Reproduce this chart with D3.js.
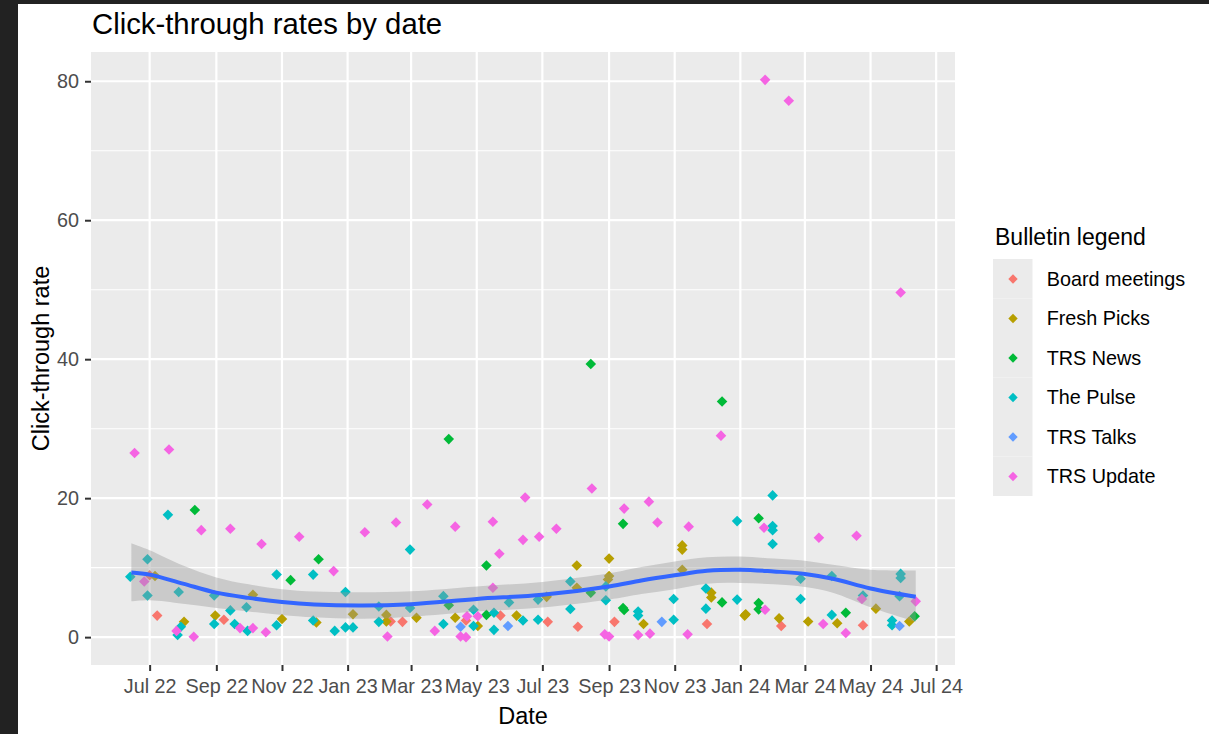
<!DOCTYPE html>
<html>
<head>
<meta charset="utf-8">
<script src="https://cdn.jsdelivr.net/npm/d3@7"></script>
<style>
  body { margin: 0; background: #fff; }
  svg { display: block; font-family: "Liberation Sans", Arial, sans-serif; }
</style>
</head>
<body>
<div class="ctr-plot"></div>
<script>
const seriesNames = ["Board meetings", "Fresh Picks", "TRS News", "The Pulse", "TRS Talks", "TRS Update"];
const seriesColors = ["#F8766D", "#B79F00", "#00BA38", "#00BFC4", "#619CFF", "#F564E3"];

const boardDates = ["2022-07-01","2022-07-08","2022-09-08","2023-02-10","2023-02-21","2023-04-21","2023-05-23","2023-07-06","2023-08-03","2023-09-06","2023-12-01","2024-02-08","2024-04-24"];
const boardRates = [8.9, 3.1, 2.5, 2.25, 2.2, 2.4, 3.1, 2.2, 1.5, 2.2, 1.9, 1.6, 1.7];

const freshDates = ["2022-07-06","2022-08-02","2022-08-31","2022-10-05","2022-11-01","2022-12-03","2023-01-06","2023-02-06","2023-02-06","2023-03-06","2023-04-11","2023-05-02","2023-06-07","2023-07-05","2023-08-02","2023-08-02","2023-09-01","2023-09-01","2023-08-31","2023-10-03","2023-11-08","2023-11-08","2023-11-08","2023-12-05","2023-12-05","2024-01-05","2024-01-06","2024-02-06","2024-03-04","2024-03-31","2024-05-06","2024-06-06"];
const freshRates = [8.8, 2.2, 3.1, 6.1, 2.6, 2.1, 3.3, 3.2, 2.25, 2.8, 2.8, 1.6, 3.1, 5.8, 10.3, 7.1, 11.3, 8.8, 8.3, 1.9, 13.2, 12.6, 9.7, 6.4, 5.7, 3.1, 3.3, 2.7, 2.25, 2.0, 4.1, 2.25];

const newsDates = ["2022-08-12","2022-11-09","2022-12-05","2023-04-05","2023-04-05","2023-05-10","2023-05-10","2023-08-15","2023-08-15","2023-09-14","2023-09-14","2023-09-15","2023-12-15","2023-12-15","2024-01-18","2024-01-18","2024-01-18","2024-04-08","2024-06-11"];
const newsRates = [18.3, 8.2, 11.2, 4.6, 28.5, 10.3, 3.2, 6.4, 39.3, 16.3, 4.2, 3.9, 5.0, 33.9, 17.1, 4.9, 4.0, 3.5, 3.0];

const pulseDates = ["2022-06-13","2022-06-29","2022-06-29","2022-07-18","2022-07-27","2022-07-30","2022-07-28","2022-08-30","2022-08-30","2022-09-14","2022-09-18","2022-09-29","2022-09-30","2022-10-27","2022-10-27","2022-11-30","2022-11-30","2022-12-20","2022-12-30","2022-12-30","2023-01-06","2023-01-30","2023-01-30","2023-02-28","2023-02-28","2023-03-31","2023-03-31","2023-04-28","2023-04-28","2023-05-31","2023-05-17","2023-05-17","2023-06-13","2023-06-27","2023-06-27","2023-07-27","2023-07-27","2023-08-29","2023-08-29","2023-09-28","2023-09-28","2023-10-31","2023-10-31","2023-11-30","2023-11-30","2023-12-29","2023-12-29","2024-01-31","2024-01-31","2024-01-31","2024-01-31","2024-02-26","2024-02-26","2024-03-26","2024-03-26","2024-04-24","2024-05-29","2024-05-29","2024-05-28","2024-05-21","2024-05-21"];
const pulseRates = [8.7, 11.2, 6.0, 17.6, 0.3, 1.5, 6.5, 6.0, 1.9, 3.85, 1.9, 4.3, 0.9, 1.7, 9.0, 9.0, 2.4, 0.9, 6.5, 1.4, 1.4, 4.4, 2.2, 12.6, 4.2, 1.9, 5.9, 3.95, 1.6, 5.0, 1.05, 3.5, 2.4, 5.4, 2.5, 8.0, 4.05, 7.3, 5.3, 3.7, 3.1, 5.5, 2.5, 7.0, 4.1, 16.7, 5.4, 20.4, 16.0, 15.4, 13.4, 8.4, 5.5, 8.8, 3.2, 6.0, 9.1, 8.5, 5.9, 2.4, 1.7];

const talksDates = ["2023-04-16","2023-05-30","2023-10-20","2024-05-28"];
const talksRates = [1.5, 1.6, 2.2, 1.6];

const updateDates = ["2022-06-17","2022-06-26","2022-07-26","2022-07-19","2022-08-11","2022-08-18","2022-09-14","2022-09-23","2022-10-05","2022-10-13","2022-10-17","2022-11-17","2022-12-19","2023-01-17","2023-02-07","2023-02-15","2023-03-16","2023-03-23","2023-04-11","2023-04-22","2023-04-16","2023-04-21","2023-05-02","2023-05-16","2023-05-16","2023-05-22","2023-06-13","2023-06-15","2023-06-28","2023-07-14","2023-08-16","2023-08-28","2023-09-01","2023-09-15","2023-09-28","2023-10-08","2023-10-09","2023-10-16","2023-11-13","2023-11-14","2023-12-14","2024-01-23","2024-01-24","2024-01-24","2024-02-15","2024-03-14","2024-03-18","2024-04-08","2024-04-18","2024-04-23","2024-05-29","2024-06-12"];
const updateRates = [26.5, 8.0, 0.9, 27.0, 0.05, 15.4, 15.6, 1.3, 1.3, 13.4, 0.7, 14.45, 9.5, 15.1, 0.1, 16.5, 19.1, 0.9, 15.9, 3.0, 0.1, 0.0, 3.0, 16.6, 7.1, 12.0, 14.0, 20.1, 14.45, 15.6, 21.4, 0.4, 0.1, 18.5, 0.3, 19.5, 0.5, 16.5, 0.4, 15.9, 29.0, 15.75, 3.95, 80.2, 77.2, 14.3, 1.9, 0.6, 14.6, 5.5, 49.6, 5.15];

// smoother (fit and 95% band)
const smoothDates = ["2022-06-14","2022-07-01","2022-08-01","2022-09-01","2022-10-01","2022-11-01","2022-12-01","2023-01-15","2023-03-01","2023-05-01","2023-07-01","2023-09-01","2023-10-01","2023-11-01","2023-12-01","2024-01-01","2024-02-01","2024-03-01","2024-03-27","2024-05-01","2024-06-12"];
const smoothFit = [9.3, 9.0, 7.7, 6.4, 5.65, 5.06, 4.7, 4.55, 4.75, 5.5, 6.1, 7.3, 8.15, 8.9, 9.55, 9.7, 9.45, 9.1, 8.4, 7.0, 5.8];
const smoothUpper = [13.5, 12.5, 10.3, 8.6, 7.6, 6.9, 6.55, 6.45, 6.6, 7.3, 7.95, 9.2, 10.1, 10.9, 11.5, 11.6, 11.3, 11.0, 10.4, 9.7, 9.6];
const smoothLower = [5.15, 5.3, 4.8, 4.2, 3.7, 3.2, 2.85, 2.65, 2.95, 3.7, 4.25, 5.4, 6.2, 6.9, 7.7, 7.8, 7.6, 7.2, 6.4, 4.3, 2.2];

const yTicks = [0, 20, 40, 60, 80];
const yMinor = [10, 30, 50, 70];
const xTickDates = ["2022-07-01","2022-09-01","2022-11-01","2023-01-01","2023-03-01","2023-05-01","2023-07-01","2023-09-01","2023-11-01","2024-01-01","2024-03-01","2024-05-01","2024-07-01"];

const parse = d3.timeParse("%Y-%m-%d");
const allDates = [boardDates, freshDates, newsDates, pulseDates, talksDates, updateDates];
const allRates = [boardRates, freshRates, newsRates, pulseRates, talksRates, updateRates];

const points = [];
allDates.forEach((dates, s) => {
  dates.forEach((d, i) => points.push({ date: parse(d), rate: allRates[s][i], series: s }));
});
const smooth = smoothDates.map((d, i) => ({ date: parse(d), fit: smoothFit[i], lo: smoothLower[i], hi: smoothUpper[i] }));

const width = 1209;
const height = 734;
const panel = { left: 91, top: 52, right: 955, bottom: 665 };

const svg = d3.select(".ctr-plot").append("svg").attr("width", width).attr("height", height);
svg.append("rect").attr("width", width).attr("height", height).attr("fill", "#fff");
svg.append("rect").attr("width", 18).attr("height", height).attr("fill", "#222");
svg.append("rect").attr("width", width).attr("height", 4).attr("fill", "#222");

// ggplot style 5% expansion
const xExt = d3.extent(points, (d) => d.date);
const xPad = (xExt[1] - xExt[0]) * 0.05;
const x = d3.scaleTime()
  .domain([new Date(+xExt[0] - xPad), new Date(+xExt[1] + xPad)])
  .range([panel.left, panel.right]);
const yExt = d3.extent(points, (d) => d.rate);
const yPad = (yExt[1] - yExt[0]) * 0.05;
const y = d3.scaleLinear().domain([yExt[0] - yPad, yExt[1] + yPad]).range([panel.bottom, panel.top]);

svg.append("rect")
  .attr("x", panel.left).attr("y", panel.top)
  .attr("width", panel.right - panel.left).attr("height", panel.bottom - panel.top)
  .attr("fill", "#EBEBEB");

svg.selectAll("line.minor").data(yMinor).enter().append("line")
  .attr("x1", panel.left).attr("x2", panel.right)
  .attr("y1", (d) => y(d)).attr("y2", (d) => y(d))
  .attr("stroke", "#fff").attr("stroke-width", 1.1);
svg.selectAll("line.hmajor").data(yTicks).enter().append("line")
  .attr("x1", panel.left).attr("x2", panel.right)
  .attr("y1", (d) => y(d)).attr("y2", (d) => y(d))
  .attr("stroke", "#fff").attr("stroke-width", 2.2);
svg.selectAll("line.vmajor").data(xTickDates).enter().append("line")
  .attr("y1", panel.top).attr("y2", panel.bottom)
  .attr("x1", (d) => x(parse(d))).attr("x2", (d) => x(parse(d)))
  .attr("stroke", "#fff").attr("stroke-width", 2.2);

const diamond = d3.symbol().type(d3.symbolSquare).size(56);

svg.selectAll("path.pt").data(points).enter().append("path")
  .attr("d", diamond)
  .attr("transform", (d) => `translate(${x(d.date)},${y(d.rate)}) rotate(45)`)
  .attr("fill", (d) => seriesColors[d.series]);

const curve = d3.curveCatmullRom.alpha(0.5);
svg.append("path")
  .datum(smooth)
  .attr("d", d3.area().x((d) => x(d.date)).y0((d) => y(d.lo)).y1((d) => y(d.hi)).curve(curve))
  .attr("fill", "#999").attr("fill-opacity", 0.4);
svg.append("path")
  .datum(smooth)
  .attr("d", d3.line().x((d) => x(d.date)).y((d) => y(d.fit)).curve(curve))
  .attr("fill", "none").attr("stroke", "#3366FF").attr("stroke-width", 4);

const xAxis = svg.append("g")
  .attr("transform", `translate(0,${panel.bottom})`)
  .call(d3.axisBottom(x).tickValues(xTickDates.map(parse)).tickFormat(d3.timeFormat("%b %y")).tickSize(6).tickPadding(8));
const yAxis = svg.append("g")
  .attr("transform", `translate(${panel.left},0)`)
  .call(d3.axisLeft(y).tickValues(yTicks).tickSize(6).tickPadding(6));

[xAxis, yAxis].forEach((g) => {
  g.select(".domain").remove();
  g.selectAll(".tick line").attr("stroke", "#333").attr("stroke-width", 2);
  g.selectAll(".tick text").attr("fill", "#4D4D4D").attr("font-size", 19.8).attr("font-family", "Liberation Sans, Arial, sans-serif");
});

svg.append("text").attr("x", 92).attr("y", 34).text("Click-through rates by date")
  .attr("font-size", 29.3).attr("fill", "#000");
svg.append("text").attr("x", (panel.left + panel.right) / 2).attr("y", 724).text("Date")
  .attr("font-size", 23.5).attr("text-anchor", "middle").attr("fill", "#000");
svg.append("text").attr("transform", `translate(49,${(panel.top + panel.bottom) / 2}) rotate(-90)`)
  .text("Click-through rate").attr("font-size", 23.5).attr("text-anchor", "middle").attr("fill", "#000");

// legend
const legend = svg.append("g");
legend.append("text").attr("x", 995).attr("y", 245).text("Bulletin legend").attr("font-size", 23).attr("fill", "#000");
legend.selectAll("rect").data(seriesNames).enter().append("rect")
  .attr("x", 993).attr("y", (d, i) => 259 + i * 39.5)
  .attr("width", 39.5).attr("height", 39.5).attr("fill", "#EBEBEB");
legend.selectAll("path").data(seriesNames).enter().append("path")
  .attr("d", d3.symbol().type(d3.symbolSquare).size(44))
  .attr("transform", (d, i) => `translate(1013,${279 + i * 39.5}) rotate(45)`)
  .attr("fill", (d, i) => seriesColors[i]);
legend.selectAll("text.lab").data(seriesNames).enter().append("text")
  .attr("x", 1046.7).attr("y", (d, i) => 279 + i * 39.5)
  .attr("dy", "0.35em").text((d) => d).attr("font-size", 19.8).attr("fill", "#000");
</script>
</body>
</html>
